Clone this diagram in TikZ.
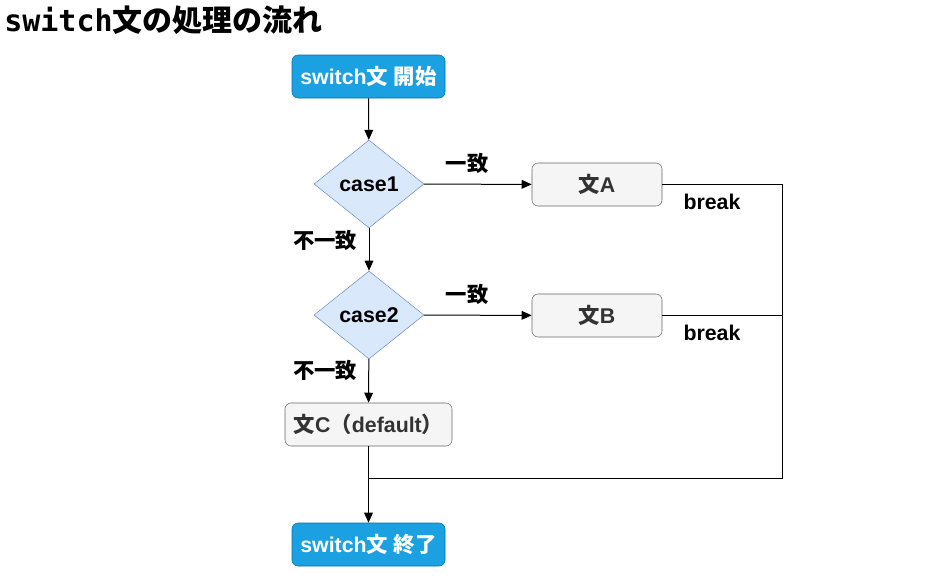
\documentclass[tikz,border=0pt]{standalone}
\usepackage{fontspec}
\usepackage{xcolor}
\setmainfont{Liberation Sans}
\newfontfamily\jp{Noto Sans CJK JP}
\newfontfamily\titlemono{DejaVu Sans Mono}
\usetikzlibrary{shapes.geometric,arrows.meta}
\definecolor{termfill}{HTML}{1BA1E2}
\definecolor{termline}{HTML}{006EAF}
\definecolor{casefill}{HTML}{DAE8FC}
\definecolor{caseline}{HTML}{6C8EBF}
\definecolor{stmtfill}{HTML}{F5F5F5}
\definecolor{stmtline}{HTML}{666666}
\definecolor{stmttext}{HTML}{333333}

\begin{document}
\begin{tikzpicture}[x=0.75pt,y=-0.75pt,
   every node/.style={font=\fontsize{16}{19}\selectfont\bfseries},
   terminal/.style={draw=termline,fill=termfill,text=white,rounded corners=4.5pt,
      minimum width=114.75pt,minimum height=32.25pt,inner sep=0pt},
   casebox/.style={diamond,draw=caseline,fill=casefill,aspect=1.25,
      minimum width=82.5pt,minimum height=66pt,inner sep=0pt},
   stmtbox/.style={draw=stmtline,fill=stmtfill,text=stmttext,rounded corners=4.5pt,
      minimum height=32.25pt,inner sep=0pt},
   flow/.style={-{Triangle[length=7.5pt,width=6.5pt]},line width=0.75pt},
   wire/.style={line width=0.75pt}]
   \useasboundingbox (0,0) rectangle (949,582);
   % title
   \node[anchor=west,font=\fontsize{22.5}{26}\selectfont\bfseries,inner sep=0pt] (title) at (4,20)
      {\titlemono switch\jp 文の処理の流れ};
   % boxes
   \node[terminal] (start) at (368.5,76.5) {switch{\jp 文} {\jp 開始}};
   \node[casebox] (case1) at (369,184) {case1};
   \node[stmtbox,minimum width=97.5pt] (stmtA) at (597,184.5) {{\jp 文}A};
   \node[casebox] (case2) at (369,315) {case2};
   \node[stmtbox,minimum width=97.5pt] (stmtB) at (597,315.5) {{\jp 文}B};
   \node[stmtbox,minimum width=125.25pt] (stmtC) at (368.5,424.5) {{\jp 文}C{\jp （}default{\jp ）}};
   \node[terminal] (finish) at (368.5,544.5) {switch{\jp 文} {\jp 終了}};
   \coordinate (rail) at (782,478);
   \coordinate (merge) at (369,478);
   % arrows
   \draw[flow] (start) -- (case1);
   \draw[flow] (case1) -- (stmtA);
   \draw[flow] (case1) -- (case2);
   \draw[flow] (case2) -- (stmtB);
   \draw[flow] (case2) -- (stmtC);
   \draw[flow] (stmtC) -- (finish);
   \draw[wire] (stmtA.east) -| (rail) -- (merge);
   \draw[wire] (stmtB.east) -- (stmtB.east -| rail);
   % labels
   \node (match1) at (467,163) {\jp 一致};
   \node (match2) at (467,294) {\jp 一致};
   \node (miss1) at (325,240) {\jp 不一致};
   \node (miss2) at (325,370) {\jp 不一致};
   \node (brk1) at (712,202) {break};
   \node (brk2) at (712,333) {break};
\end{tikzpicture}
\end{document}
